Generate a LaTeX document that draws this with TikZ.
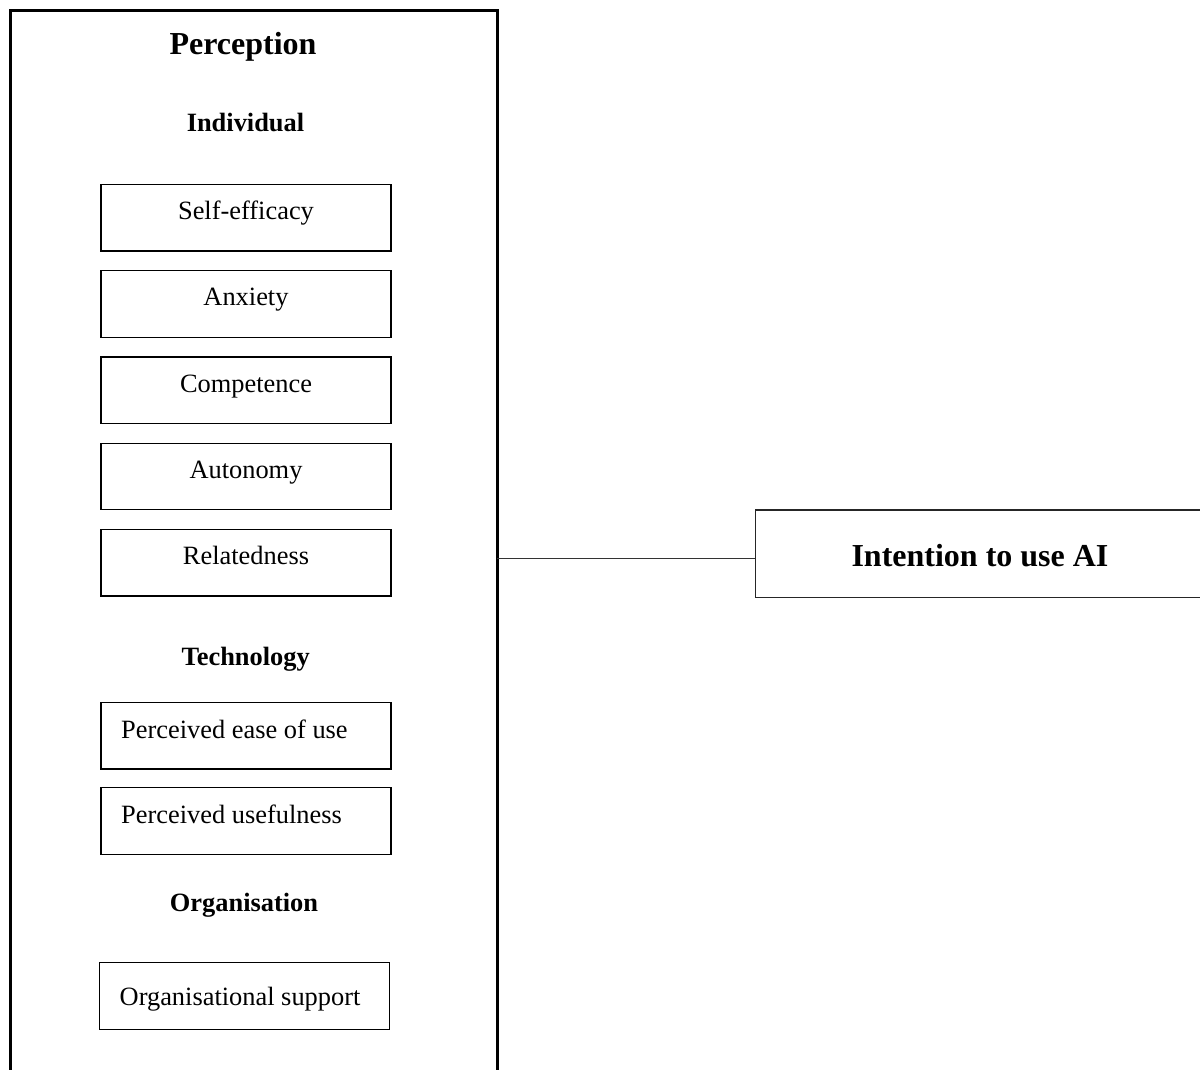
\documentclass[tikz,border=0pt]{standalone}
\usepackage{fontspec}
\setmainfont{Liberation Serif}
\begin{document}
\begin{tikzpicture}[x=1pt,y=-1pt,
  itembox/.style={draw=black,line width=1.3pt,minimum width=290pt,minimum height=66.5pt,inner sep=0pt},
  itemtext/.style={inner sep=0pt,font=\fontsize{26.4}{30}\selectfont},
  headtext/.style={inner sep=0pt,font=\fontsize{26.4}{30}\selectfont\bfseries},
  titletext/.style={inner sep=0pt,font=\fontsize{32}{36}\selectfont\bfseries},
  bigbox/.style={draw=black,line width=3pt,inner sep=0pt},
  link/.style={draw=black!80,line width=1pt}]
\useasboundingbox (0,0) rectangle (1200,1070);
\clip (0,0) rectangle (1200,1070);
% outer perception frame
\node[bigbox,minimum width=487pt,minimum height=1080pt] (perc) at (253.5,551) {};
\node[titletext,anchor=base] (ptitle) at (243,55) {Perception};
\node[headtext,anchor=base] (hind) at (245.5,131.7) {Individual};
% individual items
\node[itembox] (self) at (246,217.75) {};
\node[itemtext,anchor=base] (selft) at ([yshift=-35.7pt]self.north) {Self-efficacy};
\node[itembox] (anx) at (246,304) {};
\node[itemtext,anchor=base] (anxt) at ([yshift=-35.7pt]anx.north) {Anxiety};
\node[itembox] (comp) at (246,390.25) {};
\node[itemtext,anchor=base] (compt) at ([yshift=-35.7pt]comp.north) {Competence};
\node[itembox] (auto) at (246,476.5) {};
\node[itemtext,anchor=base] (autot) at ([yshift=-35.7pt]auto.north) {Autonomy};
\node[itembox] (rel) at (246,562.75) {};
\node[itemtext,anchor=base] (relt) at ([yshift=-35.7pt]rel.north) {Relatedness};
% technology
\node[headtext,anchor=base] (htech) at (245.7,665.7) {Technology};
\node[itembox] (peou) at (246,735.6) {};
\node[itemtext,anchor=base west] (peout) at (121,738.4) {Perceived ease of use};
\node[itembox] (pu) at (246,821) {};
\node[itemtext,anchor=base west] (put) at (121,823.8) {Perceived usefulness};
% organisation
\node[headtext,anchor=base] (horg) at (244,911.7) {Organisation};
\node[itembox] (org) at (244.2,996) {};
\node[itemtext,anchor=base west] (orgt) at (119.5,1005) {Organisational support};
% outcome
\node[draw=black!85,line width=1.3pt,minimum width=510pt,minimum height=87.7pt,inner sep=0pt] (intent) at (1010.7,553.85) {};
\node[titletext,anchor=base] (intentt) at (980,566) {Intention to use AI};
% connector
\coordinate (j) at (497,558.3);
\draw[link] (j) -- (j -| intent.west);
\end{tikzpicture}
\end{document}
